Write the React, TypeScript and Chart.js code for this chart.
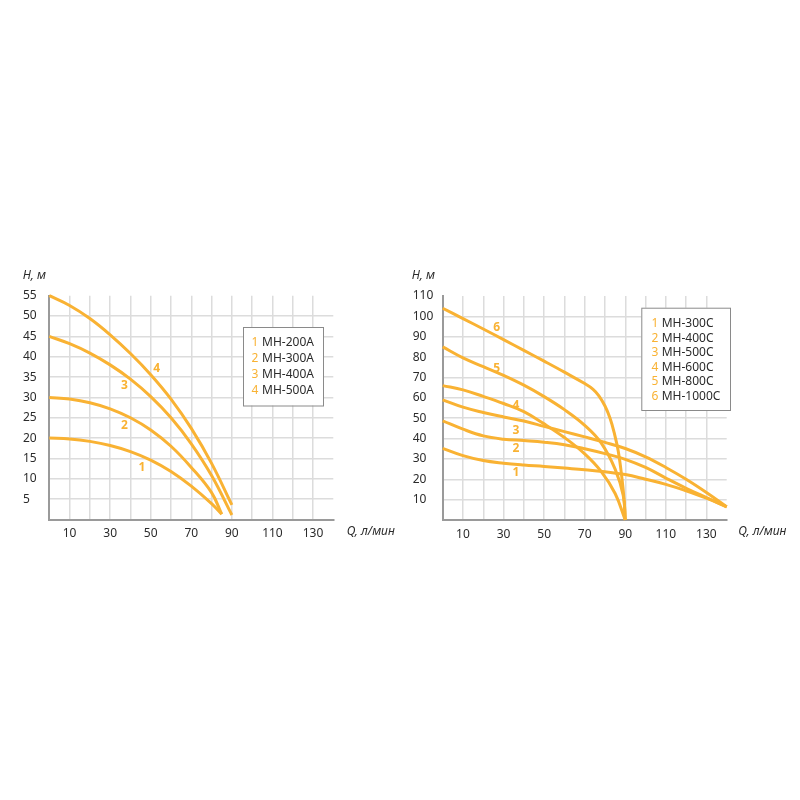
import React, { useEffect, useRef } from 'react';
import { Chart, registerables } from 'chart.js';
Chart.register(...registerables);

const ORANGE = '#F9B233';
const GRID = '#dcdcdc';
const AXIS = '#9a9a9a';
const TEXT = '#2b2b2b';
const FONT = '"Noto Sans", "Open Sans", sans-serif';

// ---------- Left chart (МН-...А) ----------
const leftXTicks = [10, 30, 50, 70, 90, 110, 130];
const leftQ12 = [0, 10, 20, 30, 40, 50, 60, 70, 80, 85];
const leftH1 = [20, 19.8, 19.2, 18.2, 16.7, 14.6, 11.8, 8.2, 3.9, 1.3];
const leftH2 = [30, 29.6, 28.7, 27.2, 25.0, 22.0, 18.0, 12.8, 6.6, 1.3];
const leftQ34 = [0, 10, 20, 30, 40, 50, 60, 70, 80, 90];
const leftH3 = [45, 43.2, 40.9, 38.0, 34.5, 30.2, 25.0, 18.6, 10.8, 1.1];
const leftH4 = [55, 52.6, 49.4, 45.4, 40.8, 35.6, 29.6, 22.4, 13.8, 3.6];
const leftNames = ['МН-200А', 'МН-300А', 'МН-400А', 'МН-500А'];
const leftLabelQ = [45.7, 37, 37, 52.9];
const leftLabelH = [12.8, 23, 32.9, 37.2];

// ---------- Right chart (МН-...С) ----------
const rightXTicks = [10, 30, 50, 70, 90, 110, 130];
const rightQ123 = [0, 10, 20, 30, 40, 50, 60, 70, 80, 90, 100, 110, 120, 130, 140];
const rightH1 = [35.2, 31.6, 29.2, 27.9, 27.0, 26.3, 25.5, 24.7, 23.7, 22.3, 20.0, 17.5, 14.3, 10.7, 6.5];
const rightH2 = [48.7, 44.6, 41.3, 39.7, 39.0, 38.2, 37.0, 35.0, 32.6, 29.8, 25.8, 20.6, 15.6, 11.0, 6.5];
const rightH3 = [59, 55.4, 52.8, 50.6, 48.6, 46.0, 43.4, 40.8, 38.1, 35.1, 31.0, 25.8, 20.0, 13.5, 6.5];
const rightQ4 = [0, 10, 20, 30, 40, 50, 60, 70, 78, 85, 90];
const rightH4 = [66, 63.9, 60.7, 57.2, 53.2, 47.2, 40.5, 32.5, 24.0, 13.0, 0];
const rightQ5 = [0, 10, 20, 30, 40, 50, 60, 70, 78, 85, 89, 90];
const rightH5 = [85, 79.6, 75.3, 71.0, 66.2, 60.6, 54.2, 46.5, 38.0, 25.0, 12.0, 0];
const rightQ6 = [0, 10, 20, 30, 40, 50, 60, 70, 74, 77, 80, 82.5, 84.5, 86.5, 88.3, 89.5, 90];
const rightH6 = [104, 98.9, 93.8, 88.6, 83.3, 78.0, 72.6, 67.0, 64.3, 61, 56, 50, 43, 34, 21, 9, 0];
const rightNames = ['МН-300С', 'МН-400С', 'МН-500С', 'МН-600С', 'МН-800С', 'МН-1000С'];
const rightLabelQ = [36.1, 36.1, 36.1, 36.1, 26.6, 26.6];
const rightLabelH = [23.4, 35.1, 43.8, 56, 74.4, 94.3];

const pts = (q: number[], h: number[]) => q.map((v, i) => ({ x: v, y: h[i] }));

type Cfg = {
  datasets: { x: number; y: number }[][];
  names: string[];
  labelQ: number[];
  labelH: number[];
  xTicks: number[];
  yMax: number;
  yStep: number;
  padLeft: number;
  padRight: number;
  padTop: number;
  yWidth: number;
  xHeight: number;
  yTitleX: number;
  xTitleOffset: number;
  legendBox: { x: number; y: number; w: number; h: number };
  legendRowY: number[];
  legendNumX: number;
  legendTextX: number;
};

function overlayPlugin(cfg: Cfg) {
  return {
    id: 'overlay',
    afterDatasetsDraw(chart: any) {
      const { ctx, chartArea, scales } = chart;
      ctx.save();
      ctx.textBaseline = 'middle';
      // axis titles
      ctx.font = `italic 12px ${FONT}`;
      ctx.fillStyle = TEXT;
      ctx.textAlign = 'left';
      ctx.fillText('H, м', cfg.yTitleX, 15.7);
      ctx.fillText('Q, л/мин', chartArea.right + cfg.xTitleOffset, 272);
      // curve labels
      ctx.font = `bold 12px ${FONT}`;
      ctx.fillStyle = ORANGE;
      ctx.textAlign = 'center';
      cfg.labelQ.forEach((q, i) => {
        const x = scales.x.getPixelForValue(q);
        const y = scales.y.getPixelForValue(cfg.labelH[i]);
        ctx.fillText(String(i + 1), x, y);
      });
      // legend box
      const b = cfg.legendBox;
      ctx.fillStyle = '#ffffff';
      ctx.fillRect(b.x, b.y, b.w, b.h);
      ctx.strokeStyle = '#8a8a8a';
      ctx.lineWidth = 1;
      ctx.strokeRect(b.x + 0.5, b.y + 0.5, b.w, b.h);
      ctx.textAlign = 'left';
      cfg.names.forEach((n, i) => {
        const y = cfg.legendRowY[i];
        ctx.font = `12px ${FONT}`;
        ctx.fillStyle = ORANGE;
        ctx.fillText(String(i + 1), cfg.legendNumX, y);
        ctx.fillStyle = TEXT;
        ctx.fillText(n, cfg.legendTextX, y);
      });
      ctx.restore();
    },
  };
}

function PumpChart({ cfg, left }: { cfg: Cfg; left: number }) {
  const ref = useRef<HTMLCanvasElement>(null);
  useEffect(() => {
    if (!ref.current) return;
    const chart = new Chart(ref.current, {
      type: 'line',
      data: {
        datasets: cfg.datasets.map((d) => ({
          data: d,
          borderColor: ORANGE,
          borderWidth: 3,
          pointRadius: 0,
          fill: false,
          tension: 0.4,
          clip: false as any,
        })),
      },
      options: {
        responsive: false,
        animation: false,
        layout: { padding: { left: cfg.padLeft, right: cfg.padRight, top: cfg.padTop, bottom: 0 } },
        plugins: { legend: { display: false }, tooltip: { enabled: false } },
        scales: {
          x: {
            type: 'linear',
            min: 0,
            max: 140,
            ticks: {
              stepSize: 10,
              autoSkip: false,
              maxRotation: 0,
              padding: 7,
              color: TEXT,
              font: { family: FONT, size: 12 },
              callback: (v: any) => (cfg.xTicks.includes(Number(v)) ? String(v) : ''),
            },
            grid: {
              color: (c: any) => (c.tick && (c.tick.value === 0 || c.tick.value === 140) ? 'rgba(0,0,0,0)' : GRID),
              lineWidth: 1.5,
              drawTicks: false,
            },
            border: { color: AXIS, width: 2 },
            afterFit: (s: any) => {
              s.height = cfg.xHeight;
            },
          },
          y: {
            type: 'linear',
            min: 0,
            max: cfg.yMax,
            ticks: {
              stepSize: cfg.yStep,
              autoSkip: false,
              crossAlign: 'far',
              padding: 4,
              color: TEXT,
              font: { family: FONT, size: 12 },
              callback: (v: any) => (Number(v) === 0 ? '' : String(v)),
            },
            grid: {
              color: (c: any) => (c.tick && (c.tick.value === 0 || c.tick.value === cfg.yMax) ? 'rgba(0,0,0,0)' : GRID),
              lineWidth: 1.5,
              drawTicks: false,
            },
            border: { color: AXIS, width: 2 },
            afterFit: (s: any) => {
              s.width = cfg.yWidth;
            },
          },
        },
      } as any,
      plugins: [overlayPlugin(cfg)],
    });
    return () => chart.destroy();
  }, []);
  return (
    <canvas
      ref={ref}
      width={400}
      height={290}
      style={{ position: 'absolute', left, top: 260, width: 400, height: 290, display: 'block' }}
    />
  );
}

const leftCfg: Cfg = {
  datasets: [pts(leftQ12, leftH1), pts(leftQ12, leftH2), pts(leftQ34, leftH3), pts(leftQ34, leftH4)],
  names: leftNames,
  labelQ: leftLabelQ,
  labelH: leftLabelH,
  xTicks: leftXTicks,
  yMax: 55,
  yStep: 5,
  padLeft: 23,
  padRight: 66.7,
  padTop: 35.7,
  yWidth: 26.3,
  xHeight: 30.5,
  yTitleX: 22.7,
  xTitleOffset: 13.4,
  legendBox: { x: 243, y: 67, w: 80, h: 78.5 },
  legendRowY: [83, 99, 115, 131],
  legendNumX: 251.5,
  legendTextX: 262,
};

const rightCfg: Cfg = {
  datasets: [
    pts(rightQ123, rightH1),
    pts(rightQ123, rightH2),
    pts(rightQ123, rightH3),
    pts(rightQ4, rightH4),
    pts(rightQ5, rightH5),
    pts(rightQ6, rightH6),
  ],
  names: rightNames,
  labelQ: rightLabelQ,
  labelH: rightLabelH,
  xTicks: rightXTicks,
  yMax: 110,
  yStep: 10,
  padLeft: 12.7,
  padRight: 73.3,
  padTop: 36,
  yWidth: 30,
  xHeight: 30,
  yTitleX: 11.7,
  xTitleOffset: 11.6,
  legendBox: { x: 241.3, y: 47.7, w: 88.7, h: 102.3 },
  legendRowY: [64, 78.5, 93, 107.5, 122, 136.5],
  legendNumX: 251.5,
  legendTextX: 261.7,
};

export default function App() {
  return (
    <div style={{ position: 'absolute', left: 0, top: 0, width: 800, height: 800, background: '#fff' }}>
      <PumpChart cfg={leftCfg} left={0} />
      <PumpChart cfg={rightCfg} left={400} />
    </div>
  );
}
